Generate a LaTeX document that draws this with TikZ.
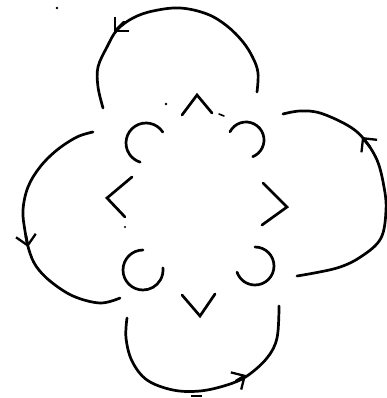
\documentclass[tikz,border=0pt]{standalone}
\usetikzlibrary{arrows.meta}
\begin{document}
\begin{tikzpicture}[x=1pt,y=1pt,yscale=-1,
  stroke/.style={line width=2.7pt,line cap=round,line join=round},
  loopline/.style={stroke},
  barb/.style={stroke,-{Straight Barb[length=10pt,width=20pt,line width=2.3pt]}},
  chevron/.style={line width=2.7pt,line cap=round,line join=miter},
  speck/.style={fill=black}]
\useasboundingbox (0,0) rectangle (387,398);
\fill[white] (0,0) rectangle (387,398);

% large circulating loops
\draw[loopline] plot[smooth,tension=0.6] coordinates {(103,108) (98,87) (98,67) (107,47) (117,30) (133,18) (153,11) (180,8) (207,14) (227,26) (243,42) (253,58) (258,73) (257,92)};
\draw[loopline] plot[smooth,tension=0.6] coordinates {(283,114) (300,111) (320,113) (347,125) (363,138) (377,160) (384,187) (386,210) (381,238) (362,256) (337,268) (297,276)};
\draw[loopline] plot[smooth,tension=0.6] coordinates {(93,132) (77,137) (57,150) (40,167) (28,187) (23,210) (25,231) (29,250) (36,266) (50,281) (73,296) (100,303) (120,298)};
\draw[loopline] plot[smooth,tension=0.6] coordinates {(127,318) (126,338) (132,361) (147,380) (173,390) (200,391) (227,385) (247,376) (267,358) (277,338) (279,306)};

% arrowheads
\draw[barb] (124,22) -- (114,32);
\draw[barb] (370,147) -- (362,137);
\draw[barb] (26,236) -- (28,247);
\draw[barb] (236,381) -- (246,375);

% inner hooks
\draw[stroke] (146,143) ++(-33:20) arc[start angle=-33,end angle=-253,radius=20];
\draw[stroke] (246,140) ++(-153:18) arc[start angle=-153,end angle=68,radius=18];
\draw[stroke] (143,270) ++(-90:20) arc[start angle=-90,end angle=-366,radius=20];
\draw[stroke] (255,266) ++(-90:19) arc[start angle=-90,end angle=161,radius=19];

% chevrons
\draw[chevron] (182,115) -- (197,95) -- (212,113);
\draw[chevron] (132,177) -- (107,198) -- (125,217);
\draw[chevron] (263,183) -- (287,207) -- (262,225);
\draw[chevron] (182,295) -- (200,316) -- (215,294);

% specks
\fill[speck] (57,8) circle (1.3);
\fill[speck] (166,104) circle (1.4);
\draw[line width=1.6pt,line cap=round] (219,114) -- (224,116);
\fill[speck] (125,227) circle (1.2);
\draw[line width=1.4pt] (191,396) -- (202,396);
\end{tikzpicture}
\end{document}
